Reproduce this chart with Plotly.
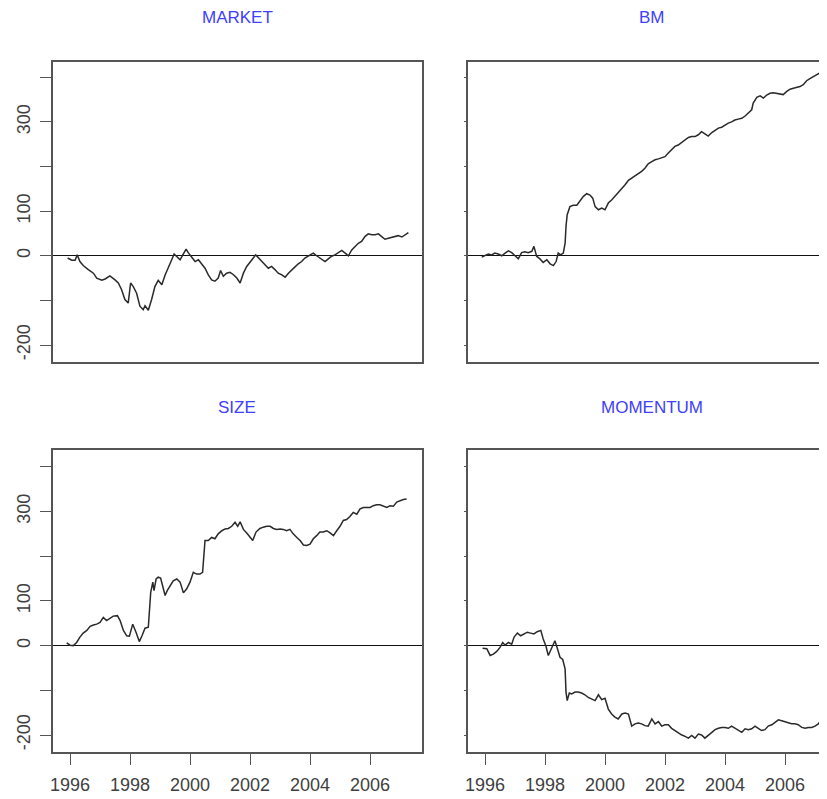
import plotly.graph_objects as go

# ---------------- data (decimal years, cumulative values) ----------------
market_t = [1995.92,1996.06,1996.17,1996.24,1996.33,1996.44,1996.61,1996.78,1996.89,1997.06,1997.17,1997.33,
            1997.5,1997.61,1997.72,1997.83,1997.94,1998.02,1998.11,1998.22,1998.33,1998.44,1998.5,1998.61,
            1998.72,1998.83,1998.94,1999.06,1999.17,1999.28,1999.39,1999.47,1999.56,1999.67,1999.76,1999.87,
            1999.94,2000.06,2000.17,2000.28,2000.39,2000.5,2000.61,2000.72,2000.83,2000.94,2001.02,2001.11,
            2001.22,2001.33,2001.44,2001.56,2001.67,2001.78,2001.89,2002.0,2002.11,2002.19,2002.28,2002.39,
            2002.5,2002.61,2002.72,2002.83,2002.94,2003.06,2003.17,2003.28,2003.39,2003.5,2003.61,2003.72,
            2003.83,2003.94,2004.11,2004.22,2004.33,2004.5,2004.61,2004.72,2004.83,2004.94,2005.06,2005.17,
            2005.28,2005.39,2005.5,2005.61,2005.72,2005.83,2005.94,2006.06,2006.17,2006.28,2006.39,2006.5,
            2006.61,2006.72,2006.83,2006.94,2007.06,2007.17,2007.28]
market_v = [-5,-10,-10,2,-13,-22,-31,-39,-50,-55,-52,-45,
            -54,-61,-76,-98,-106,-61,-69,-84,-113,-121,-112,-122,
            -98,-69,-55,-65,-43,-24,-9,4,-1,-9,2,15,
            7,-5,-13,-9,-20,-28,-43,-54,-57,-50,-33,-46,
            -39,-37,-42,-50,-61,-39,-24,-13,-5,2,-5,-13,
            -20,-28,-24,-31,-39,-43,-48,-39,-31,-25,-18,-13,
            -5,-1,6,0,-5,-13,-7,-1,2,6,12,6,
            0,13,21,28,32,43,49,47,47,49,43,37,
            39,41,43,45,42,47,52]

bm_t = [1995.89,1996.0,1996.11,1996.22,1996.33,1996.44,1996.56,1996.67,1996.78,1996.89,1997.0,1997.11,
        1997.22,1997.33,1997.44,1997.56,1997.63,1997.72,1997.83,1997.94,1998.06,1998.17,1998.28,1998.37,
        1998.44,1998.52,1998.61,1998.67,1998.7,1998.74,1998.83,1998.94,1999.06,1999.17,1999.28,1999.39,
        1999.5,1999.59,1999.67,1999.78,1999.89,2000.0,2000.11,2000.22,2000.33,2000.44,2000.56,2000.67,
        2000.78,2000.89,2001.0,2001.11,2001.22,2001.33,2001.44,2001.56,2001.67,2001.78,2001.89,2002.0,
        2002.11,2002.22,2002.33,2002.44,2002.56,2002.67,2002.78,2002.89,2003.0,2003.11,2003.22,2003.33,
        2003.44,2003.56,2003.67,2003.78,2003.89,2004.0,2004.11,2004.22,2004.33,2004.44,2004.56,2004.67,
        2004.78,2004.89,2004.94,2005.06,2005.17,2005.28,2005.39,2005.5,2005.61,2005.72,2005.83,2005.94,
        2006.06,2006.17,2006.28,2006.39,2006.5,2006.61,2006.72,2006.83,2006.94,2007.06,2007.17,2007.22]
bm_v = [-3,0,4,2,6,4,0,6,11,7,0,-7,
        7,9,7,10,21,-1,-7,-15,-9,-18,-22,-13,
        6,2,6,28,66,92,110,113,113,122,133,139,
        136,129,110,103,107,103,118,125,133,140,151,159,
        169,174,179,183,189,196,206,211,215,217,220,222,
        230,237,245,248,254,261,265,267,267,271,278,273,
        268,276,282,286,288,293,297,300,304,306,308,313,
        321,327,342,355,358,353,360,364,365,364,362,361,
        368,373,375,377,379,383,392,397,401,407,410,412]

size_t = [1995.89,1996.0,1996.11,1996.22,1996.33,1996.44,1996.56,1996.67,1996.78,1996.89,1997.0,1997.11,
          1997.22,1997.33,1997.44,1997.58,1997.67,1997.78,1997.89,1997.98,1998.09,1998.2,1998.31,1998.4,
          1998.5,1998.61,1998.69,1998.76,1998.8,1998.87,1998.94,1999.02,1999.09,1999.17,1999.24,1999.33,
          1999.44,1999.56,1999.67,1999.78,1999.89,2000.0,2000.11,2000.22,2000.33,2000.42,2000.5,2000.61,
          2000.72,2000.83,2000.94,2001.06,2001.17,2001.28,2001.39,2001.5,2001.59,2001.67,2001.78,2001.89,
          2002.0,2002.09,2002.2,2002.33,2002.44,2002.56,2002.67,2002.78,2002.89,2003.0,2003.11,2003.22,
          2003.33,2003.44,2003.56,2003.67,2003.78,2003.89,2004.0,2004.11,2004.22,2004.33,2004.44,2004.56,
          2004.67,2004.78,2004.89,2005.0,2005.11,2005.22,2005.33,2005.44,2005.56,2005.67,2005.78,2005.89,
          2006.0,2006.11,2006.22,2006.33,2006.44,2006.56,2006.67,2006.78,2006.89,2007.0,2007.11,2007.22]
size_v = [6,1,0,7,19,28,34,43,46,48,52,63,
          56,61,66,67,56,34,22,21,48,30,9,22,
          39,41,119,142,123,149,153,151,134,112,123,134,
          145,149,142,118,127,142,164,160,160,164,235,235,
          242,239,250,257,261,262,267,276,267,277,260,252,
          242,235,254,262,265,267,267,262,260,261,260,257,
          260,250,242,235,225,224,227,239,246,254,254,257,
          252,246,257,267,280,282,289,298,294,306,309,309,
          309,313,315,315,312,309,313,312,321,324,327,328]

mom_t = [1995.92,1996.06,1996.17,1996.28,1996.39,1996.5,1996.59,1996.67,1996.78,1996.89,1996.97,1997.08,
         1997.19,1997.3,1997.41,1997.52,1997.63,1997.74,1997.86,1997.94,1998.03,1998.11,1998.22,1998.33,
         1998.41,1998.5,1998.59,1998.67,1998.7,1998.74,1998.81,1998.89,1999.0,1999.11,1999.22,1999.33,
         1999.44,1999.56,1999.67,1999.78,1999.89,2000.0,2000.11,2000.22,2000.33,2000.44,2000.56,2000.67,
         2000.78,2000.89,2001.0,2001.11,2001.22,2001.33,2001.44,2001.56,2001.67,2001.78,2001.89,2002.0,
         2002.11,2002.22,2002.33,2002.44,2002.56,2002.67,2002.78,2002.89,2003.0,2003.11,2003.22,2003.33,
         2003.44,2003.56,2003.67,2003.78,2003.89,2004.0,2004.11,2004.22,2004.33,2004.44,2004.56,2004.67,
         2004.78,2004.89,2005.0,2005.11,2005.22,2005.33,2005.44,2005.56,2005.67,2005.78,2005.89,2006.0,
         2006.11,2006.22,2006.33,2006.44,2006.56,2006.67,2006.78,2006.89,2007.0,2007.11,2007.22]
mom_v = [-6,-7,-22,-19,-13,-4,7,1,7,3,19,28,
         22,26,30,28,26,31,34,15,-1,-22,-6,11,
         -6,-26,-31,-52,-104,-123,-106,-108,-104,-104,-106,-110,
         -116,-119,-123,-110,-121,-118,-142,-153,-160,-164,-153,-151,
         -153,-180,-175,-173,-175,-179,-180,-164,-175,-170,-180,-177,
         -177,-185,-190,-194,-200,-203,-207,-201,-207,-198,-200,-207,
         -201,-194,-188,-185,-183,-183,-185,-180,-185,-190,-194,-186,
         -188,-186,-180,-185,-190,-188,-180,-177,-172,-166,-168,-170,
         -173,-175,-175,-177,-183,-185,-183,-183,-180,-175,-164]

panel_titles = ["MARKET", "BM", "SIZE", "MOMENTUM"]
x_tick_vals = [1996, 1998, 2000, 2002, 2004, 2006]
y_tick_vals = [-200, -100, 0, 100, 200, 300, 400]
y_tick_text = ["-200", "", "0", "100", "", "300", ""]

# ---------------- figure ----------------
# The page body keeps the browser's default 8px margin, so the figure is
# placed at (8, 8) inside the 827x799 window and sized to fill the rest.
OFF = 8
W, H = 827 - OFF, 799 - OFF
fig = go.Figure()

series = [(market_t, market_v), (bm_t, bm_v), (size_t, size_v), (mom_t, mom_v)]
axes = [("x", "y"), ("x2", "y2"), ("x3", "y3"), ("x4", "y4")]
for (t, v), (xa, ya) in zip(series, axes):
    fig.add_trace(go.Scatter(x=t, y=v, xaxis=xa, yaxis=ya, mode="lines",
                             line=dict(color="#2a2a2a", width=1.5), showlegend=False,
                             hoverinfo="skip"))

def px_x(p):
    return (p - OFF) / W

def px_y(p):
    return 1 - (p - OFF) / H

left_dom = [px_x(53), px_x(422)]
right_dom = [px_x(468), 1.0]
top_dom = [px_y(362), px_y(62)]
bot_dom = [px_y(752), px_y(450)]

frame = "#555555"
tick_font = dict(family="Liberation Sans, Arial, sans-serif", size=18, color="#404040")

def xax(dom, rng, show_ticks):
    d = dict(domain=dom, range=rng, showgrid=False, zeroline=False, automargin=False,
             showline=True, linecolor=frame, linewidth=1.6, mirror=True,
             tickvals=x_tick_vals, tickfont=tick_font)
    if show_ticks:
        d.update(ticks="outside", ticklen=11, tickcolor=frame, tickwidth=1.3,
                 showticklabels=True, ticklabelstandoff=5)
    else:
        d.update(ticks="", showticklabels=False)
    return d

def yax(dom, rng, left, anchor):
    d = dict(domain=dom, range=rng, showgrid=False, anchor=anchor, automargin=False,
             zeroline=True, zerolinecolor="#111111", zerolinewidth=1.3,
             showline=True, linecolor=frame, linewidth=1.6,
             tickvals=y_tick_vals, ticktext=y_tick_text, tickfont=tick_font,
             tickangle=-90)
    if left:
        d.update(mirror=True, ticks="outside", ticklen=11, tickcolor=frame,
                 tickwidth=1.3, showticklabels=True, ticklabelstandoff=3)
    else:
        d.update(mirror=False, ticks="outside", ticklen=2, tickcolor=frame,
                 tickwidth=1.3, showticklabels=False)
    return d

rng_left_x = [1995.433, 2007.733]
rng_right_x = [1995.433, 2007.40]
rng_top_y = [-238, 434]
rng_bot_y = [-238, 437.6]

fig.update_layout(
    width=W, height=H, margin=dict(l=0, r=0, t=0, b=0, autoexpand=False),
    paper_bgcolor="white", plot_bgcolor="white",
    xaxis=xax(left_dom, rng_left_x, False) | dict(anchor="y"),
    yaxis=yax(top_dom, rng_top_y, True, "x"),
    xaxis2=xax(right_dom, rng_right_x, False) | dict(anchor="y2"),
    yaxis2=yax(top_dom, rng_top_y, False, "x2"),
    xaxis3=xax(left_dom, rng_left_x, True) | dict(anchor="y3"),
    yaxis3=yax(bot_dom, rng_bot_y, True, "x3"),
    xaxis4=xax(right_dom, rng_right_x, True) | dict(anchor="y4"),
    yaxis4=yax(bot_dom, rng_bot_y, False, "x4"),
)

title_font = dict(family="Liberation Sans, Arial, sans-serif", size=17, color="#4040ff")
title_pos = [(px_x(237), px_y(17)), (px_x(652), px_y(17)),
             (px_x(237), px_y(408)), (px_x(652), px_y(408))]
for txt, (px, py) in zip(panel_titles, title_pos):
    fig.add_annotation(text=txt, x=px, y=py, xref="paper", yref="paper",
                       showarrow=False, font=title_font, xanchor="center", yanchor="middle")

fig.write_html("out.html")
